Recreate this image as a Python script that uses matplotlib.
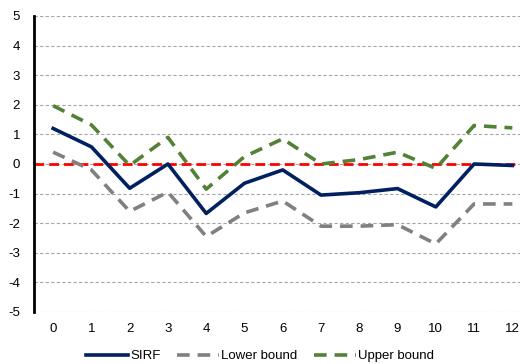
import matplotlib.pyplot as plt

plt.rcParams['font.family'] = ['Liberation Sans', 'DejaVu Sans']
plt.rcParams['axes.unicode_minus'] = False

horizon = list(range(13))
sirf = [1.2, 0.58, -0.82, 0.0, -1.67, -0.65, -0.2, -1.05, -0.97, -0.83, -1.45, 0.0, -0.05]
lower = [0.4, -0.2, -1.6, -0.95, -2.45, -1.65, -1.25, -2.1, -2.1, -2.05, -2.7, -1.35, -1.35]
upper = [1.97, 1.32, -0.05, 0.9, -0.85, 0.25, 0.85, 0.0, 0.15, 0.4, -0.15, 1.3, 1.22]

fig = plt.figure(figsize=(5.2, 3.64), dpi=100)
ax = fig.add_axes([34 / 520, 52 / 364, 1 - 34 / 520, 296 / 364])

for yv in range(-5, 6):
    ax.axhline(yv, color='#a6a6a6', lw=0.8, ls=(0, (3, 2)), zorder=1)
ax.axhline(0, color='#ff0000', lw=2, ls=(0, (3.5, 1.8)), zorder=2)

ax.plot(horizon, sirf, color='#002060', lw=2.6, label='SIRF', zorder=4)
ax.plot(horizon, lower, color='#808080', lw=2.6, ls=(0, (3.5, 2.2)), label='Lower bound', zorder=3)
ax.plot(horizon, upper, color='#538135', lw=2.6, ls=(0, (3.5, 2.2)), label='Upper bound', zorder=3)

ax.set_xlim(-0.5, 12.2)
ax.set_ylim(-5, 5)
ax.set_xticks(horizon)
ax.set_yticks(range(-5, 6))
ax.tick_params(length=0, labelsize=9.5, pad=8)
ax.tick_params(axis='y', pad=10)
for s in ['top', 'right', 'bottom']:
    ax.spines[s].set_visible(False)
ax.spines['left'].set_linewidth(2)
ax.spines['left'].set_color('black')

fig.legend(loc='center', bbox_to_anchor=(0.5, 8 / 364), ncol=3, frameon=False,
           fontsize=9.5, handlelength=3.2, columnspacing=1.2, handletextpad=0.2,
           borderpad=0)

fig.savefig('out.png', dpi=100)
